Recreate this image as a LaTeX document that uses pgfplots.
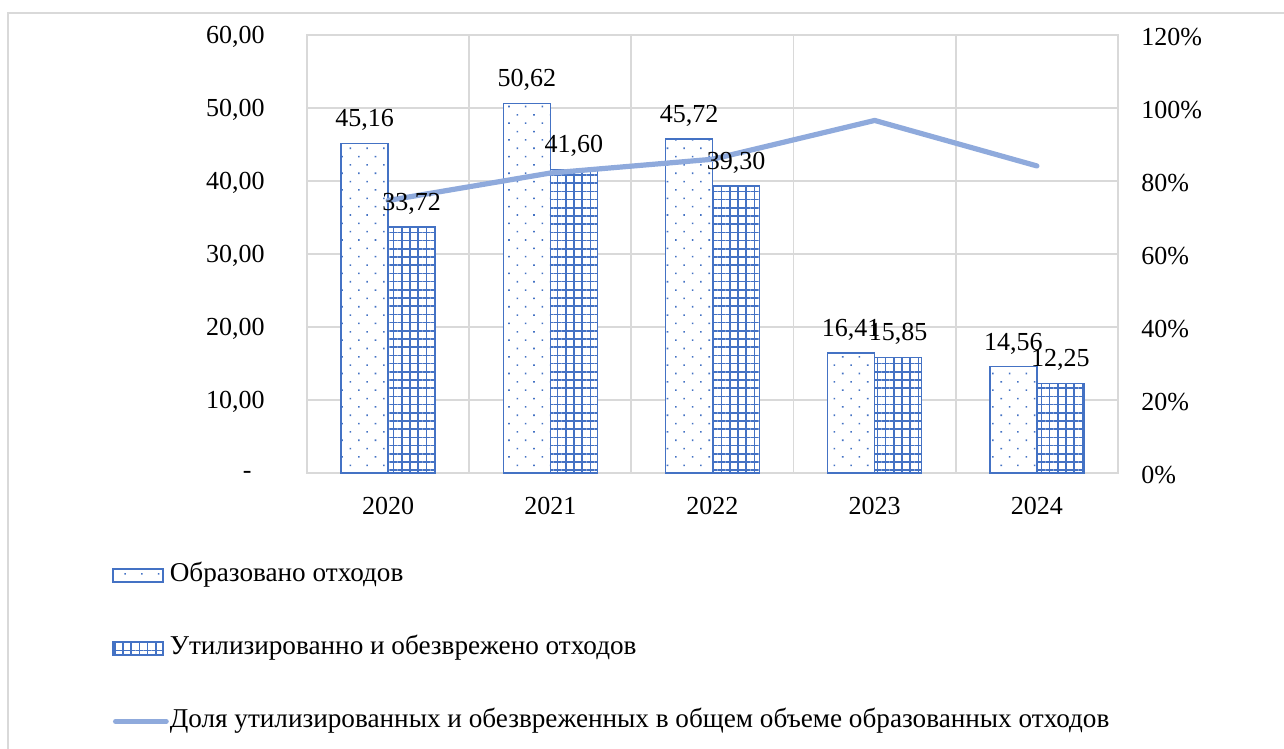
\documentclass[border=0pt]{standalone}
\usepackage{fontspec}
\setmainfont{Liberation Serif}
\usepackage{pgfplots}
\usepackage{pgfplotstable}
\pgfplotsset{compat=1.18}
\usetikzlibrary{patterns.meta}
\definecolor{barblue}{HTML}{4472C4}
\definecolor{lineblue}{HTML}{8FAADC}
\definecolor{gridgray}{HTML}{D9D9D9}
\newcommand{\f}{\fontsize{13pt}{15.6pt}\selectfont}
\newcommand{\fl}{\fontsize{13.6pt}{16pt}\selectfont}

\pgfplotstableread{
x gen util share
0 45.16 33.72 74.67
1 50.62 41.60 82.18
2 45.72 39.30 85.96
3 16.41 15.85 96.59
4 14.56 12.25 84.13
}\data

\pgfplotsset{
  common/.style={width=405.5pt, height=219pt, scale only axis,
    xmin=-0.5, xmax=4.5, at={(0pt,0pt)}, anchor=south west,
    major tick length=0pt, minor tick length=0pt},
  bar1/.style={draw=barblue, line width=0.75pt, fill=white,
    postaction={pattern={Dots[distance=5.9pt,angle=45,radius=0.55pt]}, pattern color=barblue}},
  bar2/.style={draw=barblue, line width=0.75pt, fill=white,
    postaction={pattern={Hatch[distance=4.1pt,angle=0,line width=0.8pt]}, pattern color=barblue}},
  barlegend/.style={legend image code/.code={\draw[##1] (0pt,-3.25pt) rectangle (25pt,3.25pt);}},
  linelegend/.style={legend image code/.code={\draw[##1] (1.2pt,0pt) -- (26.5pt,0pt);}},
}

\begin{document}
\begin{tikzpicture}
\useasboundingbox (-153.5pt,-138pt) rectangle (488.5pt,236.5pt);
\draw[gridgray, line width=0.7pt] (-149.5pt,-140pt) -- (-149.5pt,230pt) -- (490pt,230pt);

\begin{axis}[common,
  ybar=0pt, bar width=23.5pt,
  ymin=0, ymax=60, ytick={0,10,...,60},
  yticklabels={{-\rule{6.5pt}{0pt}},{10,00},{20,00},{30,00},{40,00},{50,00},{60,00}},
  xtick={0,1,2,3,4}, xticklabels={2020,2021,2022,2023,2024},
  minor xtick={-0.5,0.5,1.5,2.5,3.5,4.5},
  ymajorgrids, xminorgrids,
  grid style={draw=gridgray, line width=0.9pt},
  minor grid style={draw=gridgray, line width=0.9pt},
  axis line style={draw=gridgray, line width=0.9pt},
  tick label style={font=\f, text=black},
  yticklabel style={xshift=-17.7pt, yshift=-0.8pt},
  xticklabel style={yshift=-8.5pt},
]
\addplot[bar1] table[x=x,y=gen]{\data};
\addplot[bar2] table[x=x,y=util]{\data};
\end{axis}

\begin{axis}[common,
  ymin=0, ymax=120, ytick={0,20,...,120},
  yticklabels={0\%,20\%,40\%,60\%,80\%,100\%,120\%},
  axis y line*=right, axis x line=none,
  y axis line style={draw=none},
  yticklabel style={font=\f, text=black, xshift=8.2pt, yshift=-0.8pt},
  legend cell align=left,
  legend style={at={(-0.2404,-0.2055)}, anchor=north west, draw=none, fill=none,
    inner sep=0pt, font=\fl, row sep=24.5pt, column sep=0.5pt,
    nodes={text height=9pt, text depth=3pt, inner sep=0pt}},
]
\addlegendimage{bar1, barlegend}
\addlegendentry{Образовано отходов}
\addlegendimage{bar2, barlegend}
\addlegendentry{Утилизированно и обезврежено отходов}
\addplot[lineblue, line width=2.6pt, line join=round, line cap=round, linelegend] table[x=x,y=share]{\data};
\addlegendentry{Доля утилизированных и обезвреженных в общем объеме образованных отходов}
\end{axis}

\begin{axis}[common, hide axis,
  ybar=0pt, bar width=23.5pt,
  ymin=0, ymax=60,
  nodes near coords,
  every node near coord/.append style={anchor=base, yshift=8.3pt, font=\f, text=black},
  /pgf/number format/fixed, /pgf/number format/fixed zerofill,
  /pgf/number format/precision=2, /pgf/number format/use comma,
  /pgf/number format/assume math mode=true,
]
\addplot[draw=none, fill=none] table[x=x,y=gen]{\data};
\addplot[draw=none, fill=none] table[x=x,y=util]{\data};
\end{axis}
\end{tikzpicture}
\end{document}
